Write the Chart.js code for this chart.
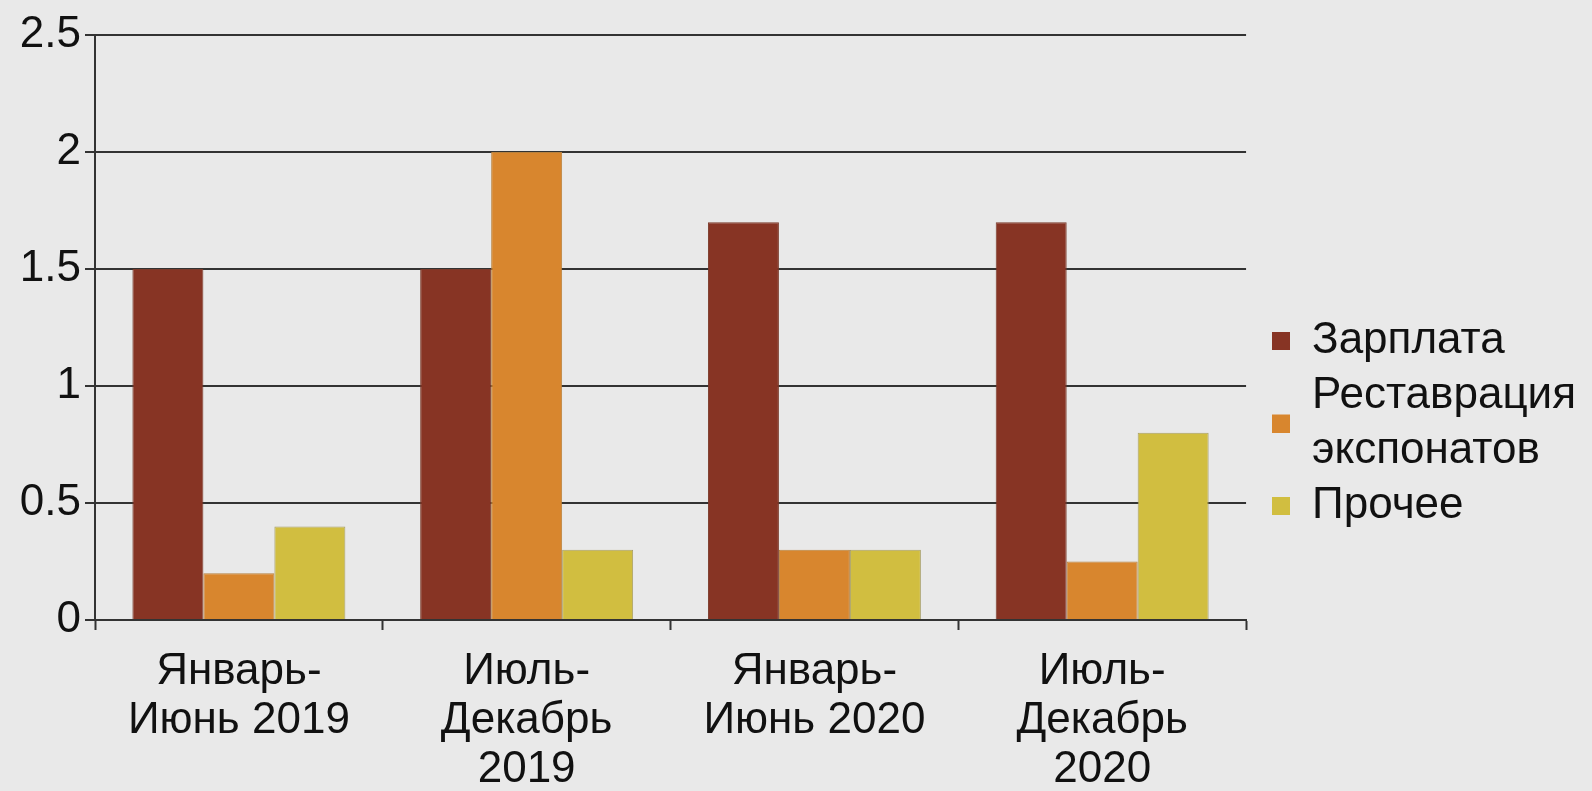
<!DOCTYPE html>
<html>
<head>
<meta charset="utf-8">
<script src="https://cdn.jsdelivr.net/npm/chart.js@4"></script>
<style>
    html, body { margin: 0; padding: 0; background: #e9e9e9; }
    #wrap { width: 1592px; height: 791px; }
</style>
</head>
<body>
<div id="wrap"><canvas id="costChart" width="1592" height="791"></canvas></div>
<script>
// периоды (подписи оси X, по строкам)
const periods = [
    ['Январь-', 'Июнь 2019'],
    ['Июль-', 'Декабрь', '2019'],
    ['Январь-', 'Июнь 2020'],
    ['Июль-', 'Декабрь', '2020']
];
const seriesNames = ['Зарплата', 'Реставрация экспонатов', 'Прочее'];
const legendLines = [['Зарплата'], ['Реставрация', 'экспонатов'], ['Прочее']];
const salary = [1.5, 1.5, 1.7, 1.7];
const restoration = [0.2, 2.0, 0.3, 0.25];
const other = [0.4, 0.3, 0.3, 0.8];
const yTicks = [0, 0.5, 1, 1.5, 2, 2.5];
const yTickLabels = ['0', '0.5', '1', '1.5', '2', '2.5'];

const colors = ['#873424', '#d8862e', '#d1be40'];
const borders = ['#7a3a2a', '#b9823e', '#a9a068'];

const fontFamily = '"Liberation Sans", Arial, sans-serif';
const legendFontSize = 44;
const legendLineHeight = 55;

// квадратик легенды; для подписи в две строки сдвигаем его на середину
function legendSwatch(color, lines) {
    const size = 18;
    const shift = (lines - 1) * legendLineHeight / 2;
    const c = document.createElement('canvas');
    c.width = size;
    c.height = size + shift * 2;
    const g = c.getContext('2d');
    g.fillStyle = color;
    g.fillRect(0, shift * 2, size, size);
    return c;
}

const ctx = document.getElementById('costChart').getContext('2d');
new Chart(ctx, {
    type: 'bar',
    data: {
        labels: periods,
        datasets: [salary, restoration, other].map((values, i) => ({
            label: seriesNames[i],
            data: values,
            backgroundColor: colors[i],
            borderColor: borders[i],
            borderWidth: 1,
            categoryPercentage: 0.74,
            barPercentage: 1.0
        }))
    },
    options: {
        responsive: false,
        animation: false,
        layout: { padding: { left: 0, top: 35, right: 6, bottom: 0 } },
        plugins: {
            tooltip: { enabled: false },
            legend: {
                position: 'right',
                maxWidth: 340,
                title: { display: true, text: '', font: { size: 10, lineHeight: 1 }, padding: { top: 22, bottom: 0 } },
                labels: {
                    color: '#111',
                    font: { family: fontFamily, size: legendFontSize, lineHeight: legendLineHeight / legendFontSize },
                    boxWidth: 18,
                    boxHeight: 18,
                    padding: 0,
                    usePointStyle: true,
                    generateLabels: function(chart) {
                        const items = Chart.defaults.plugins.legend.labels.generateLabels(chart);
                        items.forEach((item, i) => {
                            item.text = legendLines[i];
                            item.lineWidth = 0;
                            item.pointStyle = legendSwatch(colors[i], legendLines[i].length);
                        });
                        return items;
                    }
                }
            }
        },
        scales: {
            x: {
                afterFit: function(scale) { scale.height = 171; },
                grid: {
                    drawOnChartArea: false,
                    drawTicks: true,
                    tickLength: 10,
                    tickWidth: 2,
                    tickColor: '#333',
                    offset: true
                },
                border: { color: '#333', width: 2 },
                ticks: {
                    color: '#111',
                    maxRotation: 0,
                    autoSkip: false,
                    padding: 17,
                    font: { family: fontFamily, size: 44, lineHeight: 1.12 }
                }
            },
            y: {
                min: 0,
                max: 2.5,
                afterFit: function(scale) { scale.width = 95; },
                afterBuildTicks: function(scale) {
                    scale.ticks = yTicks.map(v => ({ value: v }));
                },
                grid: {
                    color: '#333',
                    lineWidth: 2,
                    tickLength: 10
                },
                border: { color: '#333', width: 2 },
                ticks: {
                    color: '#111',
                    padding: 4,
                    font: { family: fontFamily, size: 44 },
                    callback: function(value, index) { return yTickLabels[index]; }
                }
            },
            // пустая ось справа — только отступ между графиком и легендой
            gap: {
                type: 'linear',
                axis: 'y',
                position: 'right',
                afterFit: function(scale) { scale.width = 26; },
                grid: { display: false },
                border: { display: false },
                ticks: { display: false }
            }
        }
    }
});
</script>
</body>
</html>
